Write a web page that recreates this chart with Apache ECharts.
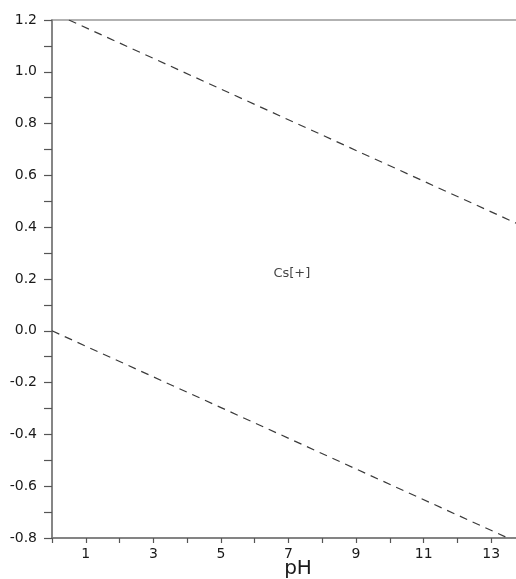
<!DOCTYPE html>
<html>
<head>
<meta charset="utf-8">
<title>Cs Pourbaix</title>
<script src="https://cdn.jsdelivr.net/npm/echarts@6/dist/echarts.min.js"></script>
<style>
  html, body { margin: 0; padding: 0; background: #fff; }
  #main { width: 516px; height: 579px; }
</style>
</head>
<body>
<div id="main"></div>
<script>
// pH axis and potential axis
var phTicks = [1, 3, 5, 7, 9, 11, 13];
var eTicks = [-0.8, -0.6, -0.4, -0.2, 0.0, 0.2, 0.4, 0.6, 0.8, 1.0, 1.2];

// water stability limits (dashed)
var upperLine = [[0.5, 1.2], [14, 0.40]];
var lowerLine = [[0, 0.0], [14, -0.83]];

// region label
var regionLabels = [[7.1, 0.22, 'Cs[+]']];

var chart = echarts.init(document.getElementById('main'));

var fontName = 'DejaVu Sans, Verdana, sans-serif';
var labelFont = { color: '#1a1a1a', fontSize: 14, fontFamily: fontName };

chart.setOption({
    animation: false,
    grid: {
        left: 52,
        right: -9,
        top: 20,
        bottom: 41,
        outerBoundsMode: 'none',
        containLabel: false,
        show: true,
        borderColor: '#999',
        borderWidth: 1.5
    },
    xAxis: {
        type: 'value',
        min: 0,
        max: 14,
        interval: 1,
        axisLine: { onZero: false, lineStyle: { color: '#777', width: 1.5 } },
        axisTick: { show: true, length: 5, lineStyle: { color: '#555', width: 1.2 } },
        splitLine: { show: false },
        axisLabel: Object.assign({
            margin: 9,
            formatter: function (v) {
                return phTicks.indexOf(v) >= 0 ? String(v) : '';
            }
        }, labelFont)
    },
    yAxis: {
        type: 'value',
        min: -0.8,
        max: 1.2,
        interval: 0.1,
        axisLine: { show: true, onZero: false, lineStyle: { color: '#777', width: 1.5 } },
        axisTick: { show: true, length: 8, lineStyle: { color: '#555', width: 1.2 } },
        splitLine: { show: false },
        axisLabel: Object.assign({
            margin: 15,
            formatter: function (v) {
                var r = Math.round(v * 10) / 10;
                for (var i = 0; i < eTicks.length; i++) {
                    if (Math.abs(eTicks[i] - r) < 1e-6) return r.toFixed(1);
                }
                return '';
            }
        }, labelFont)
    },
    graphic: [{
        type: 'text',
        x: 298,
        y: 569,
        style: {
            text: 'pH',
            fontSize: 20,
            fill: '#1a1a1a',
            fontFamily: fontName,
            align: 'center',
            verticalAlign: 'middle'
        }
    }],
    series: [{
        type: 'line',
        data: upperLine,
        symbol: 'none',
        lineStyle: { color: '#3a3a3a', width: 1.2, type: [8, 6] }
    }, {
        type: 'line',
        data: lowerLine,
        symbol: 'none',
        lineStyle: { color: '#3a3a3a', width: 1.2, type: [8, 6] }
    }, {
        type: 'scatter',
        data: regionLabels,
        symbolSize: 0,
        label: {
            show: true,
            position: 'inside',
            formatter: function (p) { return p.data[2]; },
            color: '#111',
            fontSize: 13,
            fontFamily: fontName
        }
    }]
});
</script>
</body>
</html>
